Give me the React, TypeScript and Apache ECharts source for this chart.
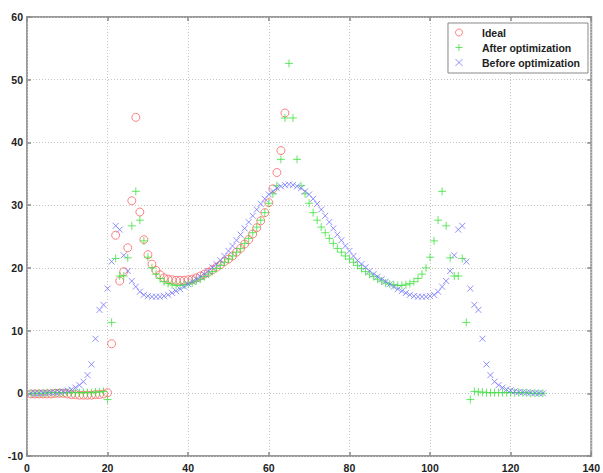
import React, { useEffect, useRef } from "react";
import * as echarts from "echarts";

// Sample index runs 1..N for each series
const idealY = [
  -0.1, -0.1, -0.1, -0.1, -0.1, -0.1, 0, 0, 0, -0.1,
  -0.2, -0.2, -0.3, -0.3, -0.3, -0.3, -0.2, -0.2, -0.1, 0.1,
  7.9, 25.2, 17.9, 19.4, 23.2, 30.7, 44.0, 28.9, 24.5, 22.1,
  20.6, 19.6, 18.9, 18.4, 18.2, 18.1, 18.0, 18.0, 18.0, 18.1,
  18.2, 18.4, 18.7, 19.0, 19.3, 19.7, 20.1, 20.5, 21.0, 21.4,
  21.9, 22.5, 23.1, 23.8, 24.5, 25.4, 26.4, 27.5, 28.8, 30.4,
  32.6, 35.2, 38.7, 44.7,
];

const afterY = [
  0, 0, 0, 0, 0.1, 0.1, 0.1, 0.1, 0.1, 0.1,
  0.1, 0.1, 0.1, 0.1, 0.1, 0.1, 0.2, 0.2, 0.3, -1.0,
  11.3, 21.5, 18.7, 18.7, 21.6, 26.7, 32.2, 27.6, 24.3, 21.7,
  20.0, 19.0, 18.3, 17.8, 17.5, 17.3, 17.2, 17.2, 17.3, 17.4,
  17.6, 17.9, 18.2, 18.6, 19.0, 19.4, 19.9, 20.4, 20.9, 21.4,
  21.9, 22.5, 23.1, 23.9, 24.7, 25.6, 26.5, 27.6, 28.8, 30.3,
  31.8, 33.1, 37.3, 43.9, 52.6, 43.9, 37.3, 33.1, 31.8, 30.3,
  28.8, 27.6, 26.5, 25.6, 24.7, 23.9, 23.1, 22.5, 21.9, 21.4,
  20.9, 20.4, 19.9, 19.4, 19.0, 18.6, 18.2, 17.9, 17.6, 17.4,
  17.3, 17.2, 17.2, 17.3, 17.5, 17.8, 18.3, 19.0, 20.0, 21.7,
  24.3, 27.6, 32.2, 26.7, 21.6, 18.7, 18.7, 21.5, 11.3, -1.0,
  0.3, 0.2, 0.2, 0.1, 0.1, 0.1, 0.1, 0.1, 0.1, 0.1,
  0.1, 0.1, 0.1, 0.1, 0, 0, 0, 0,
];

const beforeY = [
  0, 0, 0, 0.05, 0.1, 0.1, 0.15, 0.2, 0.3, 0.45,
  0.6, 0.9, 1.3, 1.85, 2.9, 4.6, 8.7, 13.3, 14.1, 16.7,
  21.0, 26.7, 26.1, 22.0, 19.5, 17.9, 17.0, 16.2, 15.7, 15.5,
  15.4, 15.4, 15.4, 15.5, 15.7, 16.0, 16.3, 16.6, 17.0, 17.4,
  17.8, 18.2, 18.6, 19.0, 19.5, 20.1, 20.6, 21.2, 21.9, 22.7,
  23.5, 24.4, 25.3, 26.3, 27.3, 28.3, 29.3, 30.2, 31.0, 31.7,
  32.2, 32.7, 33.0, 33.2, 33.3, 33.2, 33.0, 32.7, 32.2, 31.7,
  31.0, 30.2, 29.3, 28.3, 27.3, 26.3, 25.3, 24.4, 23.5, 22.7,
  21.9, 21.2, 20.6, 20.1, 19.5, 19.0, 18.6, 18.2, 17.8, 17.4,
  17.0, 16.6, 16.3, 16.0, 15.7, 15.5, 15.4, 15.4, 15.4, 15.5,
  15.7, 16.2, 17.0, 17.9, 19.5, 22.0, 26.1, 26.7, 21.0, 16.7,
  14.1, 13.3, 8.7, 4.6, 2.9, 1.85, 1.3, 0.9, 0.6, 0.45,
  0.3, 0.2, 0.15, 0.1, 0.1, 0.05, 0, 0,
];

const seriesNames = ["Ideal", "After optimization", "Before optimization"];
const xRange = [0, 140];
const yRange = [-10, 60];

const toPoints = (ys: number[]) => ys.map((y, i) => [i + 1, y]);

const FONT = "'Liberation Sans', Arial, sans-serif";

export default function App() {
  const ref = useRef<HTMLDivElement>(null);
  useEffect(() => {
    if (!ref.current) return;
    const chart = echarts.init(ref.current, undefined, { renderer: "svg" });
    const labelStyle = {
      fontFamily: FONT,
      fontSize: 10.5,
      fontWeight: "bold" as const,
      color: "#222",
    };
    const tick = { show: true, inside: true, length: 4, lineStyle: { color: "#888", width: 1.5 } };
    const noLine = { show: false, onZero: false };
    chart.setOption({
      animation: false,
      backgroundColor: "#fff",
      grid: {
        left: 27,
        right: 10,
        top: 17,
        bottom: 14,
        show: true,
        borderColor: "#9a9a9a",
        borderWidth: 2,
        backgroundColor: "transparent",
      },
      legend: {
        orient: "vertical",
        right: 15,
        top: 23,
        itemWidth: 36,
        itemHeight: 7,
        itemGap: 4,
        padding: [4, 8, 5, 7],
        borderColor: "#888",
        borderWidth: 1,
        backgroundColor: "#fff",
        itemStyle: { borderWidth: 1 },
        textStyle: { ...labelStyle, fontSize: 10.5, lineHeight: 11 },
        data: seriesNames,
      },
      xAxis: [
        {
          type: "value",
          min: xRange[0],
          max: xRange[1],
          interval: 20,
          position: "bottom",
          axisLine: noLine,
          axisTick: tick,
          axisLabel: { ...labelStyle, margin: 6 },
          splitLine: { show: true, lineStyle: { color: "#c4c4c4", type: [1, 2], width: 1 } },
        },
        {
          type: "value",
          min: xRange[0],
          max: xRange[1],
          interval: 20,
          position: "top",
          axisLine: noLine,
          axisTick: tick,
          axisLabel: { show: false },
          splitLine: { show: false },
        },
      ],
      yAxis: [
        {
          type: "value",
          min: yRange[0],
          max: yRange[1],
          interval: 10,
          position: "left",
          axisLine: noLine,
          axisTick: tick,
          axisLabel: { ...labelStyle, margin: 4 },
          splitLine: { show: true, lineStyle: { color: "#c4c4c4", type: [1, 2], width: 1 } },
        },
        {
          type: "value",
          min: yRange[0],
          max: yRange[1],
          interval: 10,
          position: "right",
          axisLine: noLine,
          axisTick: tick,
          axisLabel: { show: false },
          splitLine: { show: false },
        },
      ],
      series: [
        {
          name: seriesNames[0],
          type: "scatter",
          data: toPoints(idealY),
          symbol: "circle",
          symbolSize: 8,
          itemStyle: { color: "transparent", borderColor: "#ff6262", borderWidth: 1 },
          emphasis: { disabled: true },
        },
        {
          name: seriesNames[1],
          type: "scatter",
          data: toPoints(afterY),
          symbol: "path://M0,5L10,5M5,0L5,10",
          symbolSize: 8,
          itemStyle: { color: "transparent", borderColor: "#3ee23e", borderWidth: 1 },
          emphasis: { disabled: true },
        },
        {
          name: seriesNames[2],
          type: "scatter",
          data: toPoints(beforeY),
          symbol: "path://M0,0L10,10M0,10L10,0",
          symbolSize: 6,
          itemStyle: { color: "transparent", borderColor: "#7474ff", borderWidth: 1 },
          emphasis: { disabled: true },
        },
      ],
    });
    return () => chart.dispose();
  }, []);
  return (
    <div
      ref={ref}
      style={{ position: "absolute", left: 0, top: 0, width: 603, height: 473 }}
    />
  );
}
